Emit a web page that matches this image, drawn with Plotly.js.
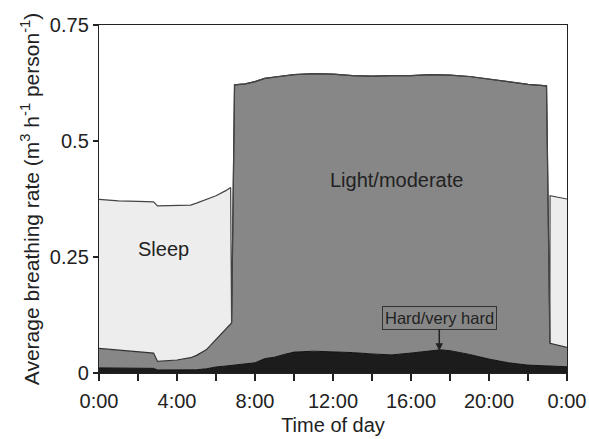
<!DOCTYPE html>
<html>
<head>
<meta charset="utf-8">
<script src="https://cdn.plot.ly/plotly-3.0.1.min.js"></script>
<style>html,body{margin:0;padding:0;background:#fff;}#chart{width:589px;height:439px;}</style>
</head>
<body>
<div id="chart"></div>
<script>
// Time of day (hours)
const hours = [0, 1, 2, 2.8, 3.0, 4, 4.7, 5, 5.5, 6, 6.5, 6.75, 6.8, 6.95, 7.5, 8, 8.5, 9, 9.5, 10, 11, 12, 13, 14, 15, 16, 17, 17.5, 18, 19, 20, 21, 22, 22.95, 23.12, 23.13, 24];
// Breathing rate per activity level (m3 h-1 person-1), stacked
const hardVeryHard = [0.011, 0.011, 0.0105, 0.010, 0.0065, 0.0065, 0.0065, 0.007, 0.009, 0.013, 0.015, 0.016, 0.016, 0.017, 0.019, 0.022, 0.031, 0.034, 0.040, 0.045, 0.047, 0.046, 0.044, 0.041, 0.039, 0.043, 0.047, 0.050, 0.048, 0.040, 0.030, 0.022, 0.017, 0.015, 0.0145, 0.0145, 0.0135];
const lightModerate = [0.042, 0.039, 0.0365, 0.033, 0.0185, 0.0215, 0.0265, 0.031, 0.041, 0.059, 0.080, 0.091, 0.092, 0.604, 0.604, 0.606, 0.604, 0.604, 0.601, 0.598, 0.598, 0.598, 0.597, 0.599, 0.602, 0.598, 0.596, 0.593, 0.594, 0.599, 0.603, 0.605, 0.605, 0.604, 0.0495, 0.0495, 0.0415];
const sleep = [0.321, 0.321, 0.323, 0.326, 0.335, 0.333, 0.329, 0.328, 0.324, 0.310, 0.298, 0.293, 0, 0, 0, 0, 0, 0, 0, 0, 0, 0, 0, 0, 0, 0, 0, 0, 0, 0, 0, 0, 0, 0, 0, 0.318, 0.320];

const xTickVals = [0, 4, 8, 12, 16, 20, 24];
const xTickText = ['0:00', '4:00', '8:00', '12:00', '16:00', '20:00', '0:00'];
const xMinorVals = [2, 6, 10, 14, 18, 22];
const yTickVals = [0, 0.25, 0.5, 0.75];
const yTickText = ['0', '0.25', '0.5', '0.75'];

const FONT = 'Liberation Sans, Arial, sans-serif';
const TXT = '#222';

const traces = [
  {x: hours, y: hardVeryHard, type: 'scatter', mode: 'lines', stackgroup: 'one',
   line: {color: '#111', width: 1}, fillcolor: '#1c1c1c', name: 'Hard/very hard'},
  {x: hours, y: lightModerate, type: 'scatter', mode: 'lines', stackgroup: 'one',
   line: {color: '#333', width: 1.2}, fillcolor: '#878787', name: 'Light/moderate'},
  {x: hours, y: sleep, type: 'scatter', mode: 'lines', stackgroup: 'one',
   line: {color: '#444', width: 1.2}, fillcolor: '#ededed', name: 'Sleep'}
];

const layout = {
  width: 589, height: 439,
  margin: {l: 99, r: 22, t: 25, b: 66},
  paper_bgcolor: '#fff', plot_bgcolor: '#fff',
  showlegend: false,
  font: {family: FONT, color: TXT, size: 20},
  xaxis: {
    range: [0, 24], tickmode: 'array', tickvals: xTickVals, ticktext: xTickText,
    ticks: 'outside', ticklen: 7, tickwidth: 1.2, tickcolor: '#222',
    ticklabelstandoff: 3,
    minor: {tickmode: 'array', tickvals: xMinorVals, ticks: 'outside', ticklen: 7, tickwidth: 1.2, tickcolor: '#222', showgrid: false},
    showline: true, linecolor: '#222', linewidth: 1.2, mirror: true,
    showgrid: false, zeroline: false,
    tickfont: {family: FONT, size: 20, color: TXT},
    title: {text: 'Time of day', font: {family: FONT, size: 20, color: TXT}, standoff: 6}
  },
  yaxis: {
    range: [0, 0.75], tickvals: yTickVals, ticktext: yTickText,
    ticks: 'outside', ticklen: 5, tickwidth: 1.2, tickcolor: '#222',
    showline: true, linecolor: '#222', linewidth: 1.2, mirror: true,
    showgrid: false, zeroline: false,
    tickfont: {family: FONT, size: 20, color: TXT},
    title: {text: 'Average breathing rate (m<sup>3</sup> h<sup>-1</sup> person<sup>-1</sup>)', font: {family: FONT, size: 21, color: TXT}, standoff: 4}
  },
  annotations: [
    {x: 3.3, y: 0.268, xref: 'x', yref: 'y', text: 'Sleep', showarrow: false,
     font: {family: FONT, size: 20, color: TXT}},
    {x: 15.26, y: 0.416, xref: 'x', yref: 'y', text: 'Light/moderate', showarrow: false,
     font: {family: FONT, size: 20, color: TXT}},
    {x: 17.45, y: 0.048, xref: 'x', yref: 'y', text: 'Hard/very hard', showarrow: true,
     ax: 0, ay: -33, arrowhead: 2, arrowsize: 1, arrowwidth: 1.5, arrowcolor: '#222',
     bordercolor: '#333', borderwidth: 1, borderpad: 2,
     font: {family: FONT, size: 16.5, color: TXT}}
  ]
};

Plotly.newPlot('chart', traces, layout, {displayModeBar: false, staticPlot: true});
</script>
</body>
</html>
